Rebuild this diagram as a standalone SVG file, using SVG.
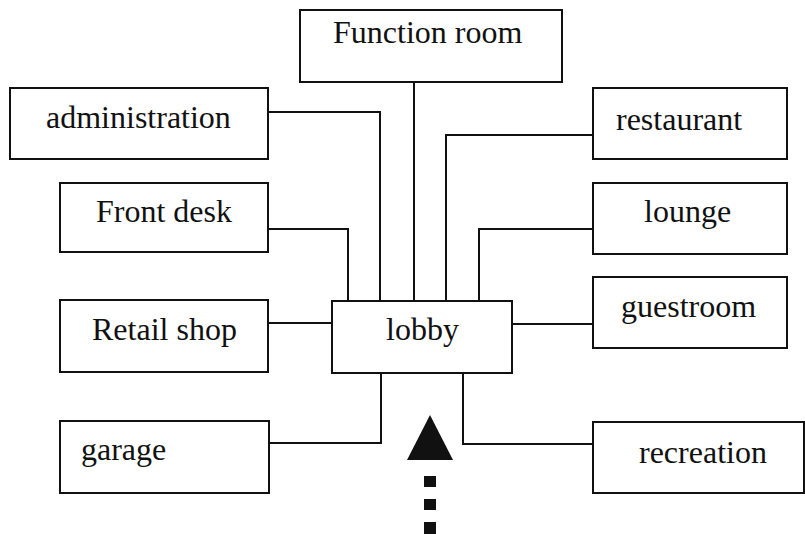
<svg xmlns="http://www.w3.org/2000/svg" width="805" height="534" viewBox="0 0 805 534">
<style>
.box{fill:#fff;stroke:#111;stroke-width:2}
.t{font-family:"Liberation Serif","Times New Roman",serif;font-size:32px;fill:#111}
.c{fill:none;stroke:#111;stroke-width:2}
</style>
<rect width="805" height="534" fill="#fff"/>
<g id="connectors">
<polyline class="c" points="414,82 414,301"/>
<polyline class="c" points="268,112 380,112 380,301"/>
<polyline class="c" points="268,229 348,229 348,301"/>
<polyline class="c" points="268,323 332,323"/>
<polyline class="c" points="269,443 381,443 381,373"/>
<polyline class="c" points="593,135 446,135 446,301"/>
<polyline class="c" points="593,229 479,229 479,301"/>
<polyline class="c" points="512,324 593,324"/>
<polyline class="c" points="463,373 463,444 593,444"/>
</g>
<g id="entrance">
<polygon points="430,415 407,460 453,460" fill="#111"/>
<rect x="424" y="476" width="12" height="11" fill="#111"/>
<rect x="424" y="499" width="12" height="11" fill="#111"/>
<rect x="424" y="522" width="12" height="12" fill="#111"/>
</g>
<g id="function-room"><rect class="box" x="300" y="10" width="262" height="72"/><text class="t" x="333" y="43">Function room</text></g>
<g id="administration"><rect class="box" x="10" y="88" width="258" height="71"/><text class="t" x="46" y="128">administration</text></g>
<g id="front-desk"><rect class="box" x="60" y="183" width="208" height="69"/><text class="t" x="96" y="222">Front desk</text></g>
<g id="retail-shop"><rect class="box" x="60" y="300" width="208" height="72"/><text class="t" x="92" y="340">Retail shop</text></g>
<g id="garage"><rect class="box" x="60" y="421" width="209" height="72"/><text class="t" x="81" y="460">garage</text></g>
<g id="lobby"><rect class="box" x="332" y="301" width="180" height="72"/><text class="t" x="386" y="340">lobby</text></g>
<g id="restaurant"><rect class="box" x="593" y="88" width="194" height="71"/><text class="t" x="616" y="130">restaurant</text></g>
<g id="lounge"><rect class="box" x="593" y="183" width="194" height="71"/><text class="t" x="644" y="222">lounge</text></g>
<g id="guestroom"><rect class="box" x="593" y="277" width="194" height="71"/><text class="t" x="621" y="317">guestroom</text></g>
<g id="recreation"><rect class="box" x="593" y="422" width="211" height="71"/><text class="t" x="639" y="463">recreation</text></g>
</svg>
